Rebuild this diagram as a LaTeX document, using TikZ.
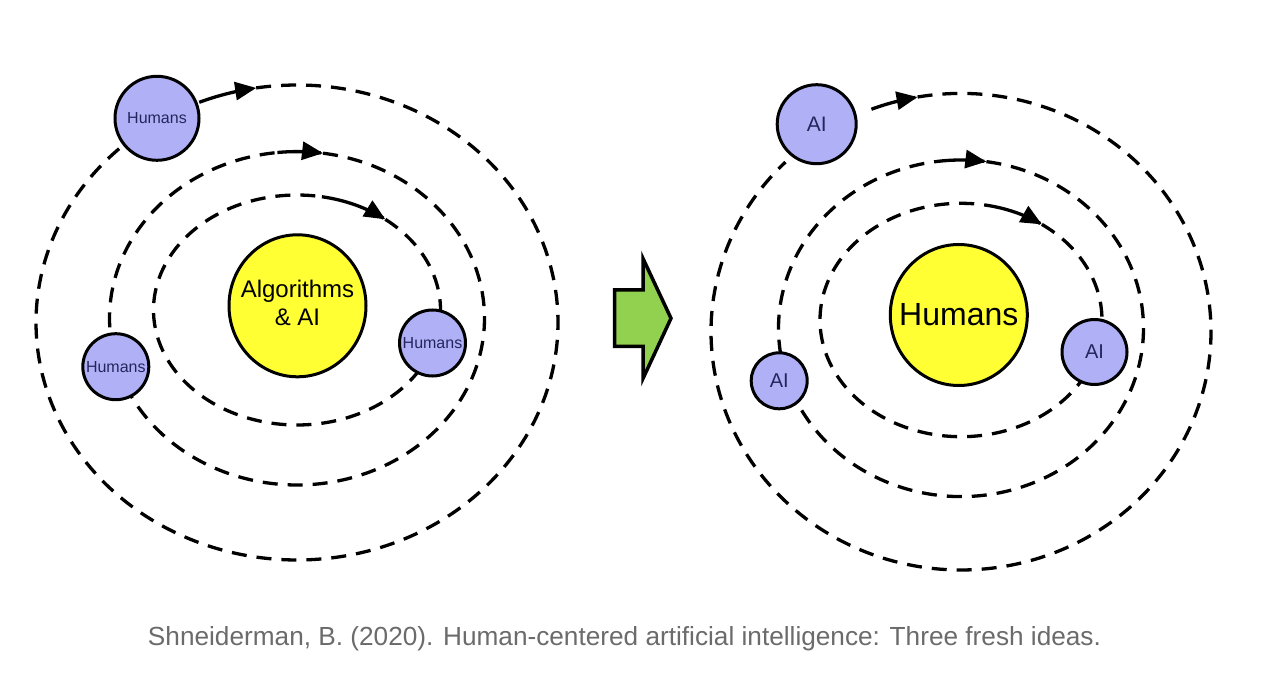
\documentclass[tikz,border=0pt]{standalone}
\usepackage{fontspec}
\usepackage{graphicx}
\setmainfont{Liberation Sans}
\usetikzlibrary{arrows.meta,shapes.geometric}
\definecolor{planetc}{HTML}{B0B0F6}
\definecolor{sunc}{HTML}{FFFF33}
\definecolor{goc}{HTML}{92D050}
\definecolor{navy}{HTML}{25255E}
\definecolor{capgray}{HTML}{6B6B6B}
\begin{document}
\begin{tikzpicture}[x=1pt,y=-1pt,
  orbit/.style={line width=3.3pt, dash pattern=on 15pt off 10pt},
  flow/.style={line width=3.3pt, -{Triangle[length=21pt,width=18pt]}},
  planet/.style={circle, draw=black, line width=3pt, fill=planetc, inner sep=0pt, text=navy},
  sunbody/.style={ellipse, draw=black, line width=3pt, fill=sunc, inner sep=0pt, align=center, text=black},
  bigarrow/.style={line width=3.5pt, fill=goc, line join=miter}
]
\path[use as bounding box, fill=white] (0,0) rectangle (1280,684);

% ---------- left system ----------
\draw[orbit] plot[domain=52:-280, samples=240] ({297+143.5*cos(\x)},{310-115*sin(\x)});
\draw[flow] plot[domain=80:52, samples=30] ({297+143.5*cos(\x)},{310-115*sin(\x)});
\draw[orbit] plot[domain=82:-264, samples=260] ({297+187.5*cos(\x)},{318.3-166.7*sin(\x)});
\draw[flow] plot[domain=96:82, samples=20] ({297+187.5*cos(\x)},{318.3-166.7*sin(\x)});
\draw[orbit] plot[domain=99:-227.6, samples=300] ({297+261*cos(\x)},{322.5-237.5*sin(\x)});
\draw[flow] plot[domain=112:99, samples=20] ({297+261*cos(\x)},{322.5-237.5*sin(\x)});

\node[sunbody, minimum width=137pt, minimum height=142pt, font=\fontsize{24}{29}\selectfont] (alg) at (297.5,305.8)
  {\makebox[0pt]{\begin{tabular}{@{}c@{}}Algorithms\\[-1pt]\& AI\end{tabular}}};
\node[planet, minimum size=84pt, font=\fontsize{16}{18}\selectfont] (h1) at (157,118.3) {Humans};
\node[planet, minimum size=66pt, font=\fontsize{16}{18}\selectfont] (h2) at (115.8,366.7) {Humans};
\node[planet, minimum size=66pt, font=\fontsize{16}{18}\selectfont] (h3) at (432.5,343) {Humans};

% ---------- shift arrow ----------
\draw[bigarrow] (614.5,290) -- (643,290) -- (643,258.5) -- (671,318.3) -- (643,378.5) -- (643,346.5) -- (614.5,346.5) -- cycle;

% ---------- right system ----------
\draw[orbit] plot[domain=55:-281, samples=240] ({961+141*cos(\x)},{320-116.7*sin(\x)});
\draw[flow] plot[domain=79:55, samples=30] ({961+141*cos(\x)},{320-116.7*sin(\x)});
\draw[orbit] plot[domain=82:-265, samples=260] ({961+182.5*cos(\x)},{328.3-168.3*sin(\x)});
\draw[flow] plot[domain=95:82, samples=20] ({961+182.5*cos(\x)},{328.3-168.3*sin(\x)});
\draw[orbit] plot[domain=100:-225.4, samples=300] ({961+250*cos(\x)},{331.7-238.3*sin(\x)});
\draw[flow] plot[domain=111:100, samples=20] ({961+250*cos(\x)},{331.7-238.3*sin(\x)});

\node[sunbody, minimum width=137pt, minimum height=141pt, font=\fontsize{32}{36}\selectfont] (hum) at (958.8,315)
  {\makebox[0pt]{Humans}};
\node[planet, minimum size=79pt, font=\fontsize{21}{24}\selectfont] (a1) at (816.7,124.2) {AI};
\node[planet, minimum size=56pt, font=\fontsize{20}{24}\selectfont] (a2) at (779.2,380.8) {AI};
\node[planet, minimum size=65pt, font=\fontsize{20}{24}\selectfont] (a3) at (1094.5,352) {AI};

% ---------- caption ----------
\node[anchor=base, text=capgray, inner sep=0pt, font=\fontsize{22}{26}\selectfont] (cap) at (624.5,645)
  {\resizebox{953pt}{!}{Shneiderman, B. (2020). Human-centered artificial intelligence: Three fresh ideas.}};
\end{tikzpicture}
\end{document}
